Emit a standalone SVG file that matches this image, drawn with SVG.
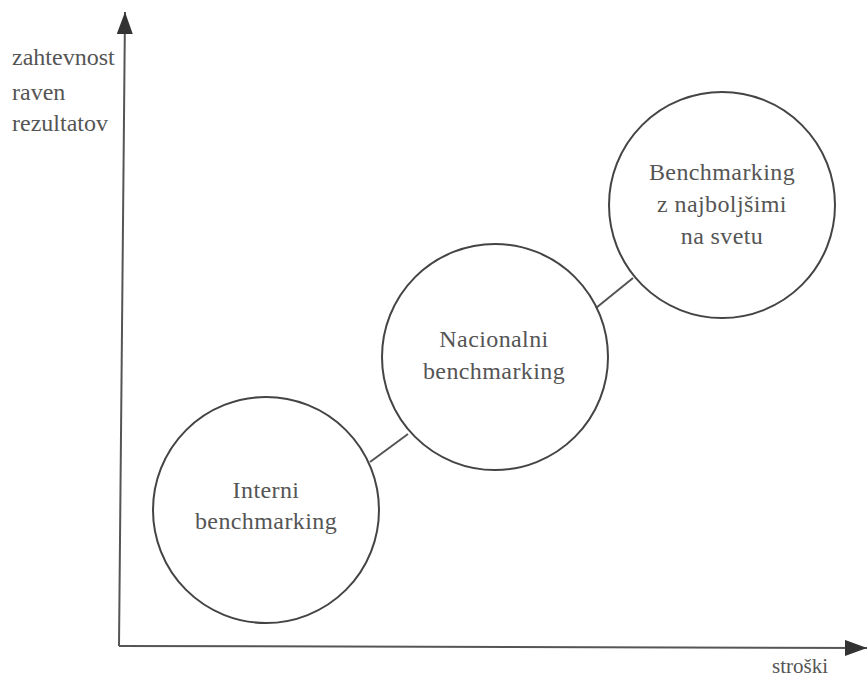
<svg xmlns="http://www.w3.org/2000/svg" width="867" height="679" viewBox="0 0 867 679">
<style>
text{font-family:"Liberation Serif","DejaVu Serif",serif;font-size:24px;fill:#555}
.c{text-anchor:middle;letter-spacing:0.4px}
.node circle{fill:none;stroke:#444;stroke-width:2}
.axis,.link{stroke:#555;stroke-width:2;fill:none}
</style>
<defs>
<marker id="ah" viewBox="0 0 22 16" refX="22" refY="8" markerWidth="22" markerHeight="16" markerUnits="userSpaceOnUse" orient="auto">
<path d="M0,0 L22,8 L0,16 Z" fill="#333"/>
</marker>
</defs>
<rect width="867" height="679" fill="#fff"/>
<g id="axes">
<line class="axis" x1="119" y1="646" x2="125" y2="12" marker-end="url(#ah)"/>
<line class="axis" x1="119" y1="646" x2="867" y2="648" marker-end="url(#ah)"/>
<text x="12" y="65">zahtevnost</text>
<text x="12" y="100">raven</text>
<text x="12" y="131">rezultatov</text>
<text x="772" y="673" style="font-size:21px">stroški</text>
</g>
<g id="connectors">
<line class="link" x1="370" y1="462" x2="408" y2="434"/>
<line class="link" x1="596" y1="308" x2="633" y2="278"/>
</g>
<g id="n1" class="node">
<circle cx="266" cy="510" r="113"/>
<text class="c" x="266" y="498">Interni</text>
<text class="c" x="266" y="529">benchmarking</text>
</g>
<g id="n2" class="node">
<circle cx="495" cy="357" r="113"/>
<text class="c" x="494" y="347">Nacionalni</text>
<text class="c" x="494" y="379">benchmarking</text>
</g>
<g id="n3" class="node">
<circle cx="722" cy="205" r="113"/>
<text class="c" x="722" y="180">Benchmarking</text>
<text class="c" x="722" y="212">z najboljšimi</text>
<text class="c" x="722" y="244">na svetu</text>
</g>
</svg>
